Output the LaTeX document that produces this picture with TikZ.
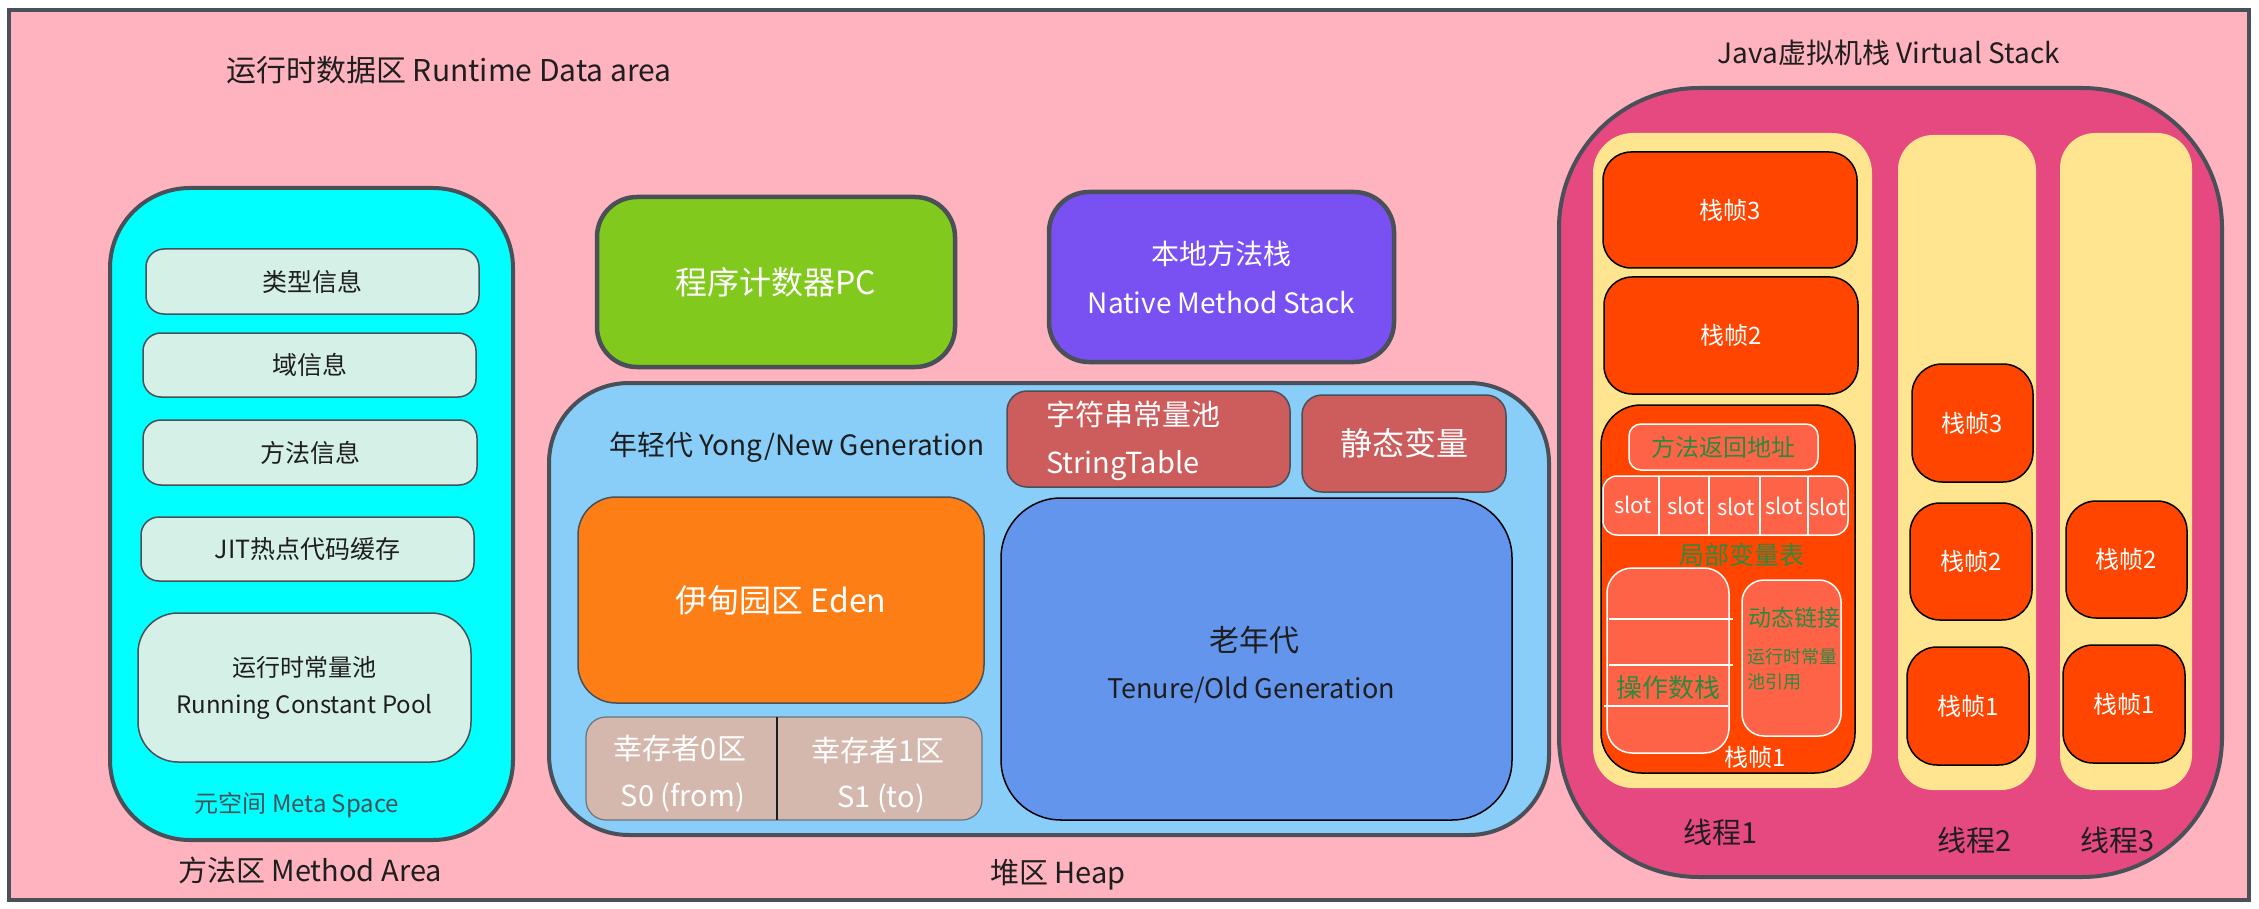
\documentclass[tikz,border=0pt]{standalone}
\usepackage{fontspec}
\setmainfont{Noto Sans CJK SC}
\definecolor{bgpink}{HTML}{FFB3BF}
\definecolor{edge}{HTML}{495057}
\definecolor{ink}{HTML}{1E1E1E}
\definecolor{cyanc}{HTML}{00FFFF}
\definecolor{mint}{HTML}{D5F0E6}
\definecolor{pcgreen}{HTML}{82C91E}
\definecolor{nmpurple}{HTML}{7950F2}
\definecolor{heapblue}{HTML}{89CDF9}
\definecolor{strred}{HTML}{CD5C5C}
\definecolor{edenor}{HTML}{FD7E14}
\definecolor{survtan}{HTML}{D4B8AE}
\definecolor{oldblue}{HTML}{6495ED}
\definecolor{vspink}{HTML}{E64980}
\definecolor{thyellow}{HTML}{FFE58F}
\definecolor{frameor}{HTML}{FF4500}
\definecolor{tomatoc}{HTML}{FF6347}
\definecolor{txtgreen}{HTML}{2B8A3E}
\begin{document}
\begin{tikzpicture}[x=1pt,y=-1pt,
  rbox/.style={draw, rounded corners=#1, inner sep=0pt, outer sep=0pt, align=center},
  heavy/.style={draw=edge, line width=4pt},
  light/.style={draw=edge, line width=1.5pt},
  blk/.style={draw=black, line width=1.5pt},
  wht/.style={draw=white, line width=1.5pt},
  lbl/.style={inner sep=0pt, outer sep=0pt, align=center, text=ink},
  fz/.style={font=\fontsize{#1}{#1}\selectfont},
  wsz/.style 2 args={minimum width=#1pt, minimum height=#2pt}
]
\useasboundingbox (0,0) rectangle (2259,909);
\node[heavy, fill=bgpink, inner sep=0pt, wsz={2240}{890}] (frame) at (1129,455) {};
\node[lbl, fz=30] (title) at (449,70) {运行时数据区 Runtime Data area};

% ---------------- Method area ----------------
\node[rbox=80, heavy, fill=cyanc, wsz={403}{652}] (ma) at (311.5,514) {};
\node[rbox=18, light, fill=mint, wsz={333}{65}, fz=25, text=ink] (typeinfo) at (312.5,281.5) {类型信息};
\node[rbox=18, light, fill=mint, wsz={333}{64}, fz=25, text=ink] (fieldinfo) at (309.5,365) {域信息};
\node[rbox=18, light, fill=mint, wsz={334}{65}, fz=25, text=ink] (methinfo) at (310,452.5) {方法信息};
\node[rbox=18, light, fill=mint, wsz={333}{64}, fz=25, text=ink] (jit) at (307.5,549) {JIT热点代码缓存};
\node[rbox=40, light, fill=mint, wsz={333}{149}, text=ink, font=\fontsize{24}{37}\selectfont] (rcp) at (304.5,687.5) {运行时常量池\\Running Constant Pool};
\node[lbl, fz=24, text=edge] (meta) at (297,805) {元空间 Meta Space};
\node[lbl, fz=29] (malabel) at (310,870) {方法区 Method Area};

% ---------------- PC & native ----------------
\node[rbox=40, draw=edge, line width=4.5pt, fill=pcgreen, wsz={358}{170}, fz=32, text=white] (pc) at (776,282) {程序计数器PC};
\node[rbox=40, draw=edge, line width=4.5pt, fill=nmpurple, wsz={345}{170}, text=white, font=\fontsize{28}{49}\selectfont] (native) at (1221.5,277) {本地方法栈\\Native Method Stack};

% ---------------- Heap ----------------
\node[rbox=80, heavy, fill=heapblue, wsz={1000}{452}] (heap) at (1049,609) {};
\node[lbl, fz=28] (young) at (797,447) {年轻代 Yong/New Generation};
\node[rbox=20, light, fill=strred, wsz={283}{96}] (strtab) at (1148.5,439) {};
\node[lbl, anchor=west, align=left, text=white, font=\fontsize{29}{48}\selectfont] (strtabtxt) at (1046,441) {字符串常量池\\StringTable};
\node[rbox=20, light, fill=strred, wsz={204}{97}, fz=32, text=white] (static) at (1404,443.5) {静态变量};
\node[rbox=38, light, fill=edenor, wsz={406}{206}, fz=32, text=white] (eden) at (781,600) {伊甸园区 Eden};
\node[rbox=20, draw=edge!80, line width=1.2pt, fill=survtan, wsz={396}{103}] (surv) at (784,768.5) {};
\draw[draw=ink, line width=1.5pt] ([xshift=-7pt]surv.north) -- ([xshift=-7pt]surv.south);
\node[lbl, fz=29, text=white] (s0a) at (680,748) {幸存者0区};
\node[lbl, fz=29, text=white] (s0b) at (683,797) {S0 (from)};
\node[lbl, fz=29, text=white] (s1a) at (878,750) {幸存者1区};
\node[lbl, fz=29, text=white] (s1b) at (881,798) {S1 (to)};
\node[rbox=60, blk, fill=oldblue, wsz={511}{322}] (old) at (1256.5,659) {};
\node[lbl, fz=30] (olda) at (1254,640) {老年代};
\node[lbl, fz=27] (oldb) at (1251,690) {Tenure/Old Generation};
\node[lbl, fz=29] (heaplabel) at (1058,875) {堆区 Heap};

% ---------------- Java virtual stack ----------------
\node[lbl, fz=28] (vstitle) at (1889,53) {Java虚拟机栈 Virtual Stack};
\node[rbox=140, heavy, fill=vspink, wsz={663}{789}] (vs) at (1890.5,482.5) {};
\node[rbox=40, draw=none, fill=thyellow, wsz={279}{655}] (th1) at (1732.5,460.5) {};
\node[rbox=35, draw=none, fill=thyellow, wsz={138}{655}] (th2) at (1967,462.5) {};
\node[rbox=35, draw=none, fill=thyellow, wsz={132}{657}] (th3) at (2126,461.5) {};

\node[rbox=28, blk, fill=frameor, wsz={254}{116}, fz=24, text=white] (t1f3) at (1730,210) {栈帧3};
\node[rbox=28, blk, fill=frameor, wsz={254}{117}, fz=24, text=white] (t1f2) at (1731,335.5) {栈帧2};
\node[rbox=40, blk, fill=frameor, wsz={254}{368}] (t1f1) at (1728,589) {};

\node[rbox=12, wht, fill=tomatoc, wsz={189}{46}, fz=24, text=txtgreen] (retaddr) at (1723.5,447) {方法返回地址};
\node[rbox=14, wht, fill=tomatoc, wsz={245}{59}] (slots) at (1725.5,505.5) {};
\draw[white, line width=1.5pt] ([xshift=-66.5pt]slots.north) -- ([xshift=-66.5pt]slots.south);
\draw[white, line width=1.5pt] ([xshift=-16.5pt]slots.north) -- ([xshift=-16.5pt]slots.south);
\draw[white, line width=1.5pt] ([xshift=34.5pt]slots.north) -- ([xshift=34.5pt]slots.south);
\draw[white, line width=1.5pt] ([xshift=82.5pt]slots.north) -- ([xshift=82.5pt]slots.south);
\node[lbl, fz=22, text=white] (slot1) at (1633,505) {slot};
\node[lbl, fz=22, text=white] (slot2) at (1686,506) {slot};
\node[lbl, fz=22, text=white] (slot3) at (1736,507) {slot};
\node[lbl, fz=22, text=white] (slot4) at (1784,506) {slot};
\node[lbl, fz=22, text=white] (slot5) at (1828,507) {slot};
\node[lbl, fz=25, text=txtgreen] (lvt) at (1742,555) {局部变量表};

\node[rbox=25, wht, fill=tomatoc, wsz={122}{185}] (ops) at (1668,660.5) {};
\coordinate (ol1a) at (1609,619); \coordinate (ol1b) at (1733,619);
\coordinate (ol2a) at (1609,665); \coordinate (ol2b) at (1733,665);
\coordinate (ol3a) at (1604,706); \coordinate (ol3b) at (1728,706);
\draw[white, line width=1.5pt] (ol1a) -- (ol1b);
\draw[white, line width=1.5pt] (ol2a) -- (ol2b);
\draw[white, line width=1.5pt] (ol3a) -- (ol3b);
\node[lbl, fz=26, text=txtgreen] (opstxt) at (1668,688) {操作数栈};

\node[rbox=22, wht, fill=tomatoc, wsz={99}{156}] (dyn) at (1791.5,658) {};
\node[lbl, fz=23, text=txtgreen] (dyna) at (1794,618) {动态链接};
\node[lbl, anchor=west, fz=18, text=txtgreen] (dynb) at (1747,657) {运行时常量};
\node[lbl, anchor=west, fz=18, text=txtgreen] (dync) at (1747,682) {池引用};
\node[lbl, fz=24, text=white] (t1f1txt) at (1755,757) {栈帧1};

\node[rbox=30, blk, fill=frameor, wsz={121}{118}, fz=24, text=white] (t2f3) at (1972.5,423) {栈帧3};
\node[rbox=30, blk, fill=frameor, wsz={122}{117}, fz=24, text=white] (t2f2) at (1971,561.5) {栈帧2};
\node[rbox=30, blk, fill=frameor, wsz={122}{118}, fz=24, text=white] (t2f1) at (1968,706) {栈帧1};
\node[rbox=30, blk, fill=frameor, wsz={121}{117}, fz=24, text=white] (t3f2) at (2126.5,559.5) {栈帧2};
\node[rbox=30, blk, fill=frameor, wsz={122}{118}, fz=24, text=white] (t3f1) at (2124,704) {栈帧1};

\node[lbl, fz=29] (th1lbl) at (1721,832) {线程1};
\node[lbl, fz=29] (th2lbl) at (1975,840) {线程2};
\node[lbl, fz=29] (th3lbl) at (2118,840) {线程3};
\end{tikzpicture}
\end{document}
